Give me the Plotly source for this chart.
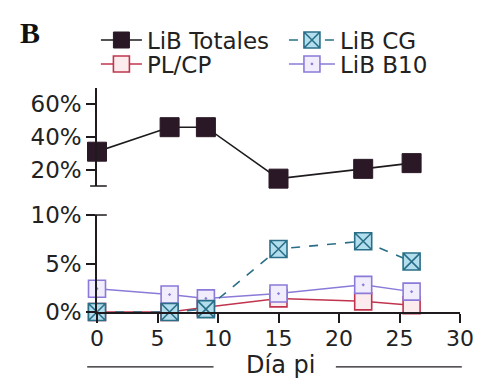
import plotly.graph_objects as go

# Days post-infection and percentages per group
dias = [0, 6, 9, 15, 22, 26]
lib_totales = [31, 46, 46, 14.5, 20.5, 24]
lib_cg = [0, 0, 0.3, 6.5, 7.3, 5.2]
pl_cp = [0, 0, 0.5, 1.4, 1.1, 0.7]
lib_b10 = [2.4, 1.8, 1.4, 1.9, 2.8, 2.1]

x_ticks = [0, 5, 10, 15, 20, 25, 30]
y_low_ticks = [0, 5, 10]
y_low_text = ["0%", "5%", "10%"]
y_high_ticks = [20, 40, 60]
y_high_text = ["20%", "40%", "60%"]

FONT = "DejaVu Sans"
FS = 23
BLACK = "#1e1a1e"
TXT = "#222"

fig = go.Figure()

fig.add_trace(go.Scatter(
    x=dias, y=lib_totales, name="LiB Totales", xaxis="x2", yaxis="y2",
    mode="lines+markers", line=dict(color=BLACK, width=1.6),
    marker=dict(symbol="square", size=19, color="#2a1826",
                line=dict(color="#2a1826", width=1)),
    legend="legend", cliponaxis=False))

fig.add_trace(go.Scatter(
    x=dias, y=pl_cp, name="PL/CP", mode="lines+markers",
    line=dict(color="#c0344e", width=1.5),
    marker=dict(symbol="square", size=17, color="#fdecee",
                line=dict(color="#c0344e", width=1.6)),
    legend="legend3", cliponaxis=False))

fig.add_trace(go.Scatter(
    x=dias, y=lib_b10, name="LiB B10", mode="lines+markers",
    line=dict(color="#8b7ad8", width=1.5),
    marker=dict(symbol="square-dot", size=17, color="#f1edfc",
                line=dict(color="#8b7ad8", width=1.6)),
    legend="legend4", cliponaxis=False))

fig.add_trace(go.Scatter(
    x=dias, y=lib_cg, name="LiB CG", mode="lines+markers",
    line=dict(color="#2a6f88", width=1.6, dash="dash"),
    marker=dict(symbol="square-x", size=17, color="#b3deee",
                line=dict(color="#2a6f88", width=1.6)),
    legend="legend2", cliponaxis=False))

axis_common = dict(showgrid=False, zeroline=False, showline=True,
                   linecolor=BLACK, linewidth=1.5, ticks="outside",
                   ticklen=9, tickwidth=1.5, tickcolor=BLACK)


def legend_box(x, y, itemwidth):
    return dict(x=x, y=y, xanchor="left", yanchor="middle",
                bgcolor="rgba(0,0,0,0)", borderwidth=0, itemwidth=itemwidth,
                font=dict(family=FONT, size=FS, color=TXT))


fig.update_layout(
    width=486, height=378,
    margin=dict(l=97, r=15, t=88, b=66),
    paper_bgcolor="white", plot_bgcolor="white",
    font=dict(family=FONT, size=FS, color=TXT),
    xaxis=dict(axis_common, range=[0, 30], tickvals=x_ticks, anchor="y",
               domain=[0, 1], ticklabelstandoff=-3,
               tickfont=dict(family=FONT, size=22, color=TXT)),
    yaxis=dict(axis_common, range=[0, 10], tickvals=y_low_ticks,
               ticktext=y_low_text, domain=[0, 0.433], anchor="x",
               tickfont=dict(family=FONT, size=FS, color=TXT)),
    xaxis2=dict(range=[0, 30], anchor="y2", matches="x", visible=False),
    yaxis2=dict(axis_common, range=[10, 70], tickvals=y_high_ticks,
                ticktext=y_high_text, domain=[0.5625, 1], anchor="x2",
                tickfont=dict(family=FONT, size=FS, color=TXT)),
    legend=legend_box(-0.003, 1.214, 41),
    legend2=legend_box(0.515, 1.214, 46),
    legend3=legend_box(-0.003, 1.107, 41),
    legend4=legend_box(0.515, 1.107, 46),
    showlegend=True,
)

# Axis-break caps on the two y-axis segments
fig.add_shape(type="line", xref="paper", yref="paper",
              x0=-0.019, x1=0.027, y0=0.5625, y1=0.5625,
              line=dict(color=BLACK, width=1.5))
fig.add_shape(type="line", xref="paper", yref="paper",
              x0=-0.019, x1=0.027, y0=0.433, y1=0.433,
              line=dict(color=BLACK, width=1.5))

# Rules flanking the x-axis title
fig.add_shape(type="line", xref="paper", yref="paper",
              x0=-0.027, x1=0.321, y0=-0.245, y1=-0.245,
              line=dict(color=BLACK, width=1.3))
fig.add_shape(type="line", xref="paper", yref="paper",
              x0=0.658, x1=1.005, y0=-0.245, y1=-0.245,
              line=dict(color=BLACK, width=1.3))

fig.add_annotation(text="Día pi", xref="paper", yref="paper",
                   x=0.505, y=-0.238, yanchor="middle", showarrow=False,
                   font=dict(family=FONT, size=24, color=TXT))

fig.add_annotation(text="<b>B</b>", xref="paper", yref="paper",
                   x=-0.219, y=1.33, showarrow=False,
                   font=dict(family="Liberation Serif", size=30, color="#111"))

fig.write_html("out.html")
